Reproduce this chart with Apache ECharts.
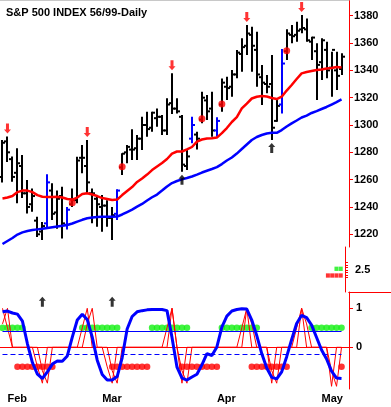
<!DOCTYPE html>
<html><head><meta charset="utf-8">
<script src="https://cdn.jsdelivr.net/npm/echarts@6/dist/echarts.min.js"></script>
<style>html,body{margin:0;padding:0;background:#fff}#c{width:391px;height:407px}</style>
</head><body><div id="c"></div>
<script>
const dates = ['1/29','2/1','2/2','2/3','2/4','2/5','2/8','2/9','2/10','2/11','2/12','2/16','2/17','2/18','2/19','2/22','2/23','2/24','2/25','2/26','3/1','3/2','3/3','3/4','3/5','3/8','3/9','3/10','3/11','3/12','3/15','3/16','3/17','3/18','3/19','3/22','3/23','3/24','3/25','3/26','3/29','3/30','3/31','4/1','4/5','4/6','4/7','4/8','4/9','4/12','4/13','4/14','4/15','4/16','4/19','4/20','4/21','4/22','4/23','4/26','4/27','4/28','4/29','4/30','5/3','5/4','5/5','5/6','5/7',''];
const monthIdx = [1,20,43,64];
const monthNames = ['Feb','Mar','Apr','May'];
const weekIdx = [6,15,25,30,35,40,44,49,54,59];

const high = [1289,1291.6,1277,1283,1278,1259.8,1253.6,1232.9,1229,1264,1257.3,1252,1254.8,1240,1253.6,1276.8,1285.3,1289,1253.6,1248.7,1248.7,1245,1240,1253,1279.3,1285.3,1296.8,1292.7,1306,1309.7,1309.7,1312,1307.3,1319.5,1337.8,1319.5,1307.3,1281.7,1306,1295,1324.4,1322,1324.4,1305.6,1334,1335.4,1340.2,1354.9,1363.5,1373.2,1372,1368.3,1343.9,1336.6,1351.2,1318.3,1355.6,1370,1373.2,1375.6,1380.5,1378,1364.6,1359.8,1363.5,1361,1353.6,1353.6,1352.5];
const low = [1258,1273,1258.5,1242.7,1246.5,1235.3,1236.5,1218,1215.8,1224,1230.4,1224,1217,1223.6,1240,1242.7,1264.6,1250,1228,1225.5,1221.9,1225.5,1215.8,1230.4,1263.4,1272,1274.4,1274.4,1281.7,1291.4,1295,1298.7,1292.7,1292.7,1308,1308.5,1265.8,1267,1286.6,1282,1301.2,1303.7,1291.4,1291.4,1309.7,1318.3,1320.7,1334.2,1339,1351.2,1339,1328,1314.6,1323.2,1289,1302.4,1308.5,1347.6,1359.8,1361,1367.1,1361,1347.6,1318.3,1333,1334.2,1320.7,1325.6,1336.6];
const open = [1262,1288,1275,1265,1270,1250,1242,1230,1222,1228,1252,1236,1248,1227,1242,1245,1276,1270,1250,1246,1240,1241,1232,1235,1269,1280,1282,1283,1290,1300,1298,1305,1306,1296,1316,1312,1306,1270,1290,1293,1304,1318,1312,1296,1315,1328,1328,1337,1352,1358,1366,1355,1335,1330,1330,1303,1315,1354,1366,1366,1370,1370,1361,1354,1346,1355,1342,1340,1341];
const close = [1287,1280,1262,1272,1250,1240,1248,1220,1226,1258,1235,1246,1228,1238,1245,1274,1276,1258,1250,1242,1241,1232,1234,1252,1279,1284,1282,1290,1300,1297,1309,1306,1296,1315,1312,1310,1271,1277,1300,1290,1320,1310,1296,1303,1331,1327,1337,1353,1357,1367,1358,1337,1331,1328,1298,1314,1345,1367,1365,1369,1371,1362,1364,1344,1362,1340,1355,1336,1350];
const blueBars = [9,13,23,38,43,56];

const maFast = [1246.2,1246.9,1248.0,1250.9,1252.0,1252.0,1250.9,1248.7,1247.5,1247.3,1247.3,1247.5,1246.9,1245.8,1245.4,1246.9,1249.5,1250.0,1249.1,1248.0,1246.5,1245.8,1245.1,1245.4,1248.7,1251.7,1254.6,1258.3,1260.8,1263.7,1267.0,1269.6,1272.2,1275.1,1279.1,1280.6,1280.6,1282.1,1283.9,1287.9,1289.4,1290.1,1290.3,1290.8,1294.1,1297.8,1302.2,1305.8,1312.1,1315.7,1319.4,1320.7,1321.2,1320.9,1319.8,1319.0,1320.7,1325.2,1329.3,1333.7,1337.8,1338.8,1339.5,1340.2,1340.6,1341.3,1341.7,1342.4,1342.1];
const maSlow = [1212.9,1215.1,1217.3,1219.8,1221.4,1222.4,1223.1,1223.6,1224.0,1224.6,1225.2,1225.7,1226.2,1226.8,1227.9,1229.3,1230.6,1231.7,1232.3,1232.6,1232.9,1232.9,1232.9,1233.0,1234.5,1236.3,1238.1,1240.2,1242.2,1244.7,1247.1,1249.1,1252.0,1255.0,1257.5,1259.0,1260.2,1261.2,1262.3,1263.7,1265.2,1266.5,1267.8,1269.2,1271.4,1274.0,1276.2,1279.1,1282.4,1285.7,1289.0,1291.2,1292.7,1293.8,1294.3,1294.3,1296.3,1298.9,1301.2,1303.3,1305.5,1306.9,1308.8,1310.2,1311.7,1313.2,1315.0,1316.8,1318.7];

const dotIdx = [14,24,40,44,57];
const dotVal = [1243,1269.5,1304.6,1315.4,1354.4];
const downArrowIdx = [1,17,34,49,60];
const upArrowIdx = [36,54];

const priceTicks = [1220,1240,1260,1280,1300,1320,1340,1360,1380];

// small panel
const greenSlots = [1,2];
const redSlots = [1,2,3,4];
const greenRow = 2.64, redRow = 1.97;
const smallTicks = [1.75,2,2.25,2.5,2.75,3,3.25];
const smallLabels = [2.5];

// oscillator panel
const osc = [0.91,0.93,0.88,0.85,0.67,0.09,-0.39,-0.69,-0.80,-0.63,-0.43,-0.35,-0.36,-0.22,0.26,0.70,0.85,0.71,0.26,-0.33,-0.70,-0.84,-0.84,-0.75,-0.27,0.47,0.79,0.91,0.94,0.96,0.97,0.97,0.97,0.94,0.25,-0.51,-0.79,-0.84,-0.76,-0.69,-0.45,-0.16,-0.21,0.01,0.52,0.80,0.93,0.97,0.99,0.98,0.70,0.30,-0.16,-0.53,-0.77,-0.81,-0.63,-0.24,0.20,0.61,0.82,0.76,0.57,0.25,-0.07,-0.30,-0.61,-0.79,-0.80];
const signalA = [1,0.5,0,0,0,0,0,-0.5,-0.92,0,0,0,0,0,0,0,0.5,1,0,0,0,-0.5,-0.92,0,0,0,0,0,0,0,0,0,0,0.5,1,0,-0.92,0,0,0,0,0,0,0,0,0,0,0,0.5,1,0,0,0,0,-0.92,0,0,0,0,0.5,1,0,0,0,0,0,-1,0,0];
const signalB = [0.6,1,0,0,0,0,0,0,-0.6,-0.92,0,0,0,0,0,0,0,0.6,1,0,0,0,-0.6,-0.92,0,0,0,0,0,0,0,0,0,0,1,0,-0.6,-0.92,0,0,0,0,0,0,0,0,0,0,0,1,0.6,0,0,0,-0.6,-0.92,0,0,0,0,1,0.6,0,0,0,0,-0.6,-1,0];
const greenDotIdx = [0,1,2,3,4,16,17,18,19,20,21,22,23,30,31,32,33,34,35,36,37,44,45,46,47,48,49,50,51,62,63,64,65,66,67,68];
const redDotIdx = [3,4,5,6,7,8,9,10,22,23,24,25,26,27,28,29,36,37,38,39,40,41,42,43,50,51,52,53,54,55,56,57,68];
const greenLevel = 0.5, redLevel = -0.5;
const solidLevel = 0.42, dashLevel = -0.18;
const oscUpArrowIdx = [8,22];
const oscArrowLevel = 1.17;
const oscTicks = [0,1];

const RED = '#ff0000', BLUE = '#0000ff', GREEN = '#11f011';
const FONT = 'Liberation Sans, Arial, sans-serif';
const labelStyle = {color:'#000', fontWeight:'bold', fontSize:11, fontFamily:FONT};
const downArrow = 'path://M2,0 L5,0 L5,6 L7,6 L3.5,10 L0,6 L2,6 Z';
const upArrow = 'path://M3.5,0 L7,4 L5,4 L5,10 L2,10 L2,4 L0,4 Z';

const ohlcData = high.map((h,i)=>[i, open[i], h, low[i], close[i], blueBars.includes(i)?1:0]);
const lastIdx = high.length - 1;

const gx = {left:-1.7, width:350.7};
const chart = echarts.init(document.getElementById('c'));
chart.setOption({
  animation:false,
  backgroundColor:'#fff',
  title:{text:'S&P 500 INDEX 56/99-Daily', left:1, top:2, textStyle:{color:'#000', fontWeight:'bold', fontSize:11, fontFamily:FONT}},
  grid:[
    {left:gx.left, width:gx.width, top:0, height:247},
    {left:gx.left, width:gx.width, top:247, height:45},
    {left:gx.left, width:gx.width, top:292, height:97},
    {left:349, width:42, top:247, height:45},
    {left:gx.left, width:gx.width, top:292, height:97}
  ],
  xAxis:[
    {type:'category', gridIndex:0, data:dates, position:'top', axisLine:{lineStyle:{color:'#c8c8c8'}}, axisTick:{show:false}, axisLabel:{show:false}},
    {type:'value', gridIndex:1, inverse:true, min:-0.93, max:80.63, show:false},
    {type:'category', gridIndex:2, data:dates, position:'bottom',
      axisLine:{lineStyle:{color:RED, width:1}},
      axisTick:{alignWithLabel:true, interval:(i)=>monthIdx.includes(i), length:6, lineStyle:{color:RED}},
      axisLabel:Object.assign({interval:(i)=>monthIdx.includes(i), formatter:(v,i)=>monthNames[monthIdx.indexOf(i)] || '', align:'left', margin:4}, labelStyle)},
    {type:'value', gridIndex:3, position:'top', min:0, max:1, axisLine:{show:true, lineStyle:{color:RED}}, axisTick:{show:false}, axisLabel:{show:false}, splitLine:{show:false}},
    {type:'value', gridIndex:3, position:'bottom', min:0, max:1, axisLine:{show:true, lineStyle:{color:RED}}, axisTick:{show:false}, axisLabel:{show:false}, splitLine:{show:false}},
    {type:'category', gridIndex:4, data:dates, position:'bottom', axisLine:{show:false},
      axisTick:{alignWithLabel:true, interval:(i)=>weekIdx.includes(i), length:3, lineStyle:{color:RED}}, axisLabel:{show:false}}
  ],
  yAxis:[
    {type:'value', gridIndex:0, position:'right', min:1210.7, max:1391.5,
      axisLine:{show:true, lineStyle:{color:RED}}, splitLine:{show:false},
      axisTick:{show:true, customValues:priceTicks, length:4, lineStyle:{color:RED}},
      axisLabel:Object.assign({customValues:priceTicks, margin:5, formatter:(v)=>String(v)}, labelStyle)},
    {type:'value', gridIndex:1, position:'right', min:0.32, max:4.82,
      axisLine:{show:true, lineStyle:{color:RED}}, splitLine:{show:false},
      axisTick:{show:true, customValues:smallTicks, length:3, lineStyle:{color:RED}},
      axisLabel:Object.assign({customValues:smallLabels, margin:6, padding:[4,0,0,0], formatter:(v)=>String(v)}, labelStyle)},
    {type:'value', gridIndex:2, position:'right', min:-1.069, max:1.418,
      axisLine:{show:true, lineStyle:{color:RED}}, splitLine:{show:false},
      axisTick:{show:true, customValues:oscTicks, length:4, lineStyle:{color:RED}},
      axisLabel:Object.assign({customValues:oscTicks, margin:7, formatter:(v)=>String(v)}, labelStyle)},
    {type:'value', gridIndex:3, show:false},
    {type:'value', gridIndex:4, show:false}
  ],
  series:[
    {type:'custom', xAxisIndex:0, yAxisIndex:0, z:2, data:ohlcData,
      renderItem:(params, api)=>{
        const k = api.value(0);
        const o = api.coord([k, api.value(1)]);
        const h = api.coord([k, api.value(2)]);
        const l = api.coord([k, api.value(3)]);
        const c = api.coord([k, api.value(4)]);
        const col = api.value(5) ? BLUE : '#000';
        const x = Math.round(h[0]);
        const st = {stroke:col, lineWidth:2};
        return {type:'group', children:[
          {type:'line', shape:{x1:x, y1:h[1], x2:x, y2:l[1]}, style:st},
          {type:'line', shape:{x1:x-3, y1:o[1], x2:x, y2:o[1]}, style:st},
          {type:'line', shape:{x1:x, y1:c[1], x2:x+3, y2:c[1]}, style:st}
        ]};
      }},
    {type:'line', xAxisIndex:0, yAxisIndex:0, data:maFast, showSymbol:false, z:3, lineStyle:{color:RED, width:2.5}},
    {type:'line', xAxisIndex:0, yAxisIndex:0, data:maSlow, showSymbol:false, z:3, lineStyle:{color:BLUE, width:2.5}},
    {type:'scatter', xAxisIndex:0, yAxisIndex:0, z:5, symbolSize:7, itemStyle:{color:RED}, data:dotIdx.map((k,i)=>[k, dotVal[i]])},
    {type:'scatter', xAxisIndex:0, yAxisIndex:0, z:5, symbol:downArrow, symbolSize:[7,10], symbolOffset:[0,-8], itemStyle:{color:RED}, data:downArrowIdx.map(k=>[k, high[k]])},
    {type:'scatter', xAxisIndex:0, yAxisIndex:0, z:5, symbol:upArrow, symbolSize:[7,10], symbolOffset:[0,8], itemStyle:{color:'#000'}, data:upArrowIdx.map(k=>[k, low[k]])},
    {type:'scatter', xAxisIndex:1, yAxisIndex:1, symbol:'rect', symbolSize:[4,4.3], itemStyle:{color:GREEN}, data:greenSlots.map(s=>[s, greenRow])},
    {type:'scatter', xAxisIndex:1, yAxisIndex:1, symbol:'rect', symbolSize:[4,4.3], itemStyle:{color:RED}, data:redSlots.map(s=>[s, redRow])},
    {type:'scatter', xAxisIndex:2, yAxisIndex:2, z:2, symbolSize:6.5, itemStyle:{color:GREEN}, data:greenDotIdx.map(k=>[k, greenLevel])},
    {type:'scatter', xAxisIndex:2, yAxisIndex:2, z:2, symbolSize:6.5, itemStyle:{color:RED}, data:redDotIdx.map(k=>[k, redLevel])},
    {type:'line', xAxisIndex:2, yAxisIndex:2, z:3, data:signalA, showSymbol:false, lineStyle:{color:RED, width:1}},
    {type:'line', xAxisIndex:2, yAxisIndex:2, z:3, data:signalB, showSymbol:false, lineStyle:{color:RED, width:1}},
    {type:'line', xAxisIndex:2, yAxisIndex:2, z:4, data:osc, showSymbol:false, lineStyle:{color:BLUE, width:3},
      markLine:{silent:true, symbol:'none', label:{show:false},
        data:[
          [{coord:[0, solidLevel], lineStyle:{color:BLUE, width:1, type:'solid'}},{coord:[lastIdx, solidLevel]}],
          [{coord:[0, dashLevel], lineStyle:{color:BLUE, width:1, type:[5,3]}},{coord:[lastIdx, dashLevel]}]
        ]}},
    {type:'scatter', xAxisIndex:2, yAxisIndex:2, z:5, symbol:upArrow, symbolSize:[7,10], itemStyle:{color:'#000'}, data:oscUpArrowIdx.map(k=>[k, oscArrowLevel])}
  ]
});
</script></body></html>
